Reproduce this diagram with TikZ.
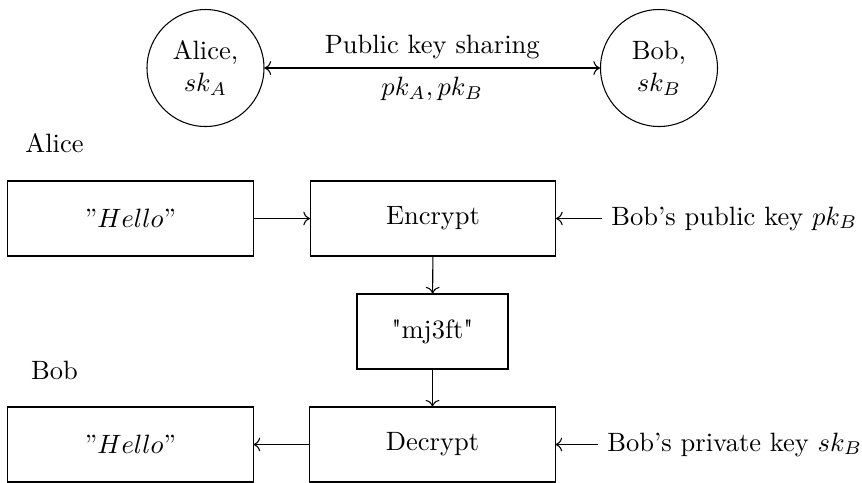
\documentclass[tikz,border=0pt]{standalone}
\usetikzlibrary{arrows.meta}
\begin{document}
\begin{tikzpicture}[x=0.3774pt, y=-0.3774pt,
  party/.style={draw, circle, minimum size=44.15pt, inner sep=0pt, align=center},
  wide/.style={draw, rectangle, minimum width=92.5pt, minimum height=28.3pt, inner sep=0pt},
  narrow/.style={draw, rectangle, minimum width=57pt, minimum height=28.3pt, inner sep=0pt},
  flow/.style={->},
  keytext/.style={anchor=west}
]
\useasboundingbox (0,0) rectangle (862,482);

% key exchange between the two parties
\node[party] (alice) at (205.5,68) {Alice,\\ $sk_A$};
\node[party] (bob) at (659,68) {Bob,\\ $sk_B$};
\draw[<->] (alice) -- (bob)
  node[midway, above] (share) {Public key sharing}
  node[midway, below] (keys) {$pk_A, pk_B$};

% Alice encrypts
\node[anchor=base] (alicelbl) at (54.5,152) {Alice};
\node[wide] (msgA) at (130.5,218.5) {"$Hello$"};
\node[wide] (enc) at (433,218.5) {Encrypt};
\node[keytext] (pkB) at (602,218.5) {Bob's public key $pk_B$};
\draw[flow] (msgA) -- (enc);
\draw[flow] (pkB) -- (enc);

% ciphertext
\node[narrow] (cipher) at (432.5,331.5) {\textquotedbl mj3ft\textquotedbl};
\draw[flow] (enc) -- (cipher);

% Bob decrypts
\node[anchor=base] (boblbl) at (54.5,379) {Bob};
\node[wide] (dec) at (432.5,444.5) {Decrypt};
\node[wide] (msgB) at (130.5,444.5) {"$Hello$"};
\node[keytext] (skB) at (598,444.5) {Bob's private key $sk_B$};
\draw[flow] (cipher) -- (dec);
\draw[flow] (dec) -- (msgB);
\draw[flow] (skB) -- (dec);
\end{tikzpicture}
\end{document}
